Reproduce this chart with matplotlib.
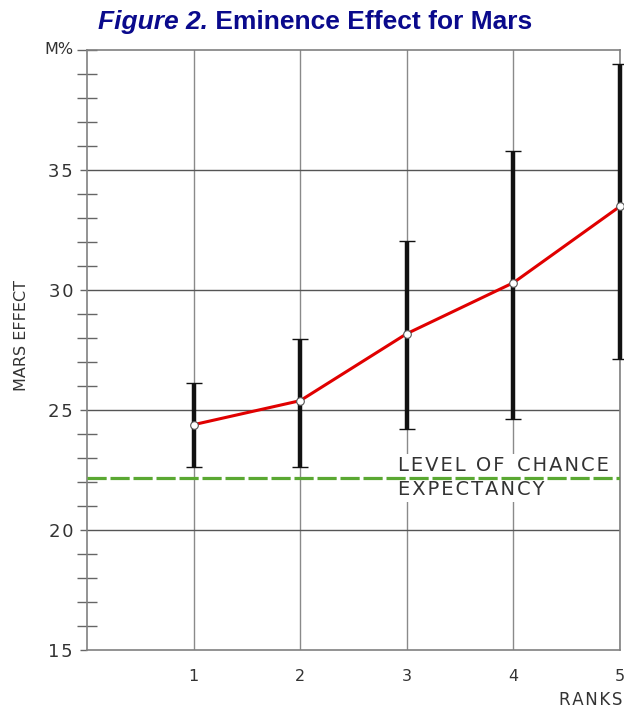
import numpy as np
import matplotlib.pyplot as plt
from matplotlib.ticker import MultipleLocator

# values
ranks = [1, 2, 3, 4, 5]
mars_effect = [24.40, 25.40, 28.19, 30.31, 33.49]
err_low = [22.65, 22.65, 24.23, 24.65, 27.13]
err_high = [26.13, 27.97, 32.06, 35.81, 39.40]
chance_level = 22.2
y_ticks = [15, 20, 25, 30, 35]

tick_font = 'DejaVu Sans'
tick_color = '#333333'
HS = '\u200a'  # hair space, for the wide letter spacing of the original


def spaced(s, sep=HS):
    return sep.join(s)


fig = plt.figure(figsize=(6.24, 7.13), dpi=100)
ax = fig.add_axes([0.1394, 0.0877, 0.8542, 0.8422])

ax.set_xlim(0, 5)
ax.set_ylim(15, 40)

# grid
for r in ranks:
    ax.axvline(r, color='#8a8a8a', lw=1.0, zorder=1)
for v in y_ticks[1:]:
    ax.axhline(v, color='#555555', lw=1.0, zorder=1)

for side in ['left', 'top', 'right', 'bottom']:
    ax.spines[side].set_color('#808080')
    ax.spines[side].set_linewidth(1.2)

ax.set_xticks(ranks)
ax.set_xticklabels([str(r) for r in ranks], fontsize=11.5, color=tick_color,
                   family=tick_font)
ax.set_yticks(y_ticks)
ax.set_yticklabels([spaced(str(v)) for v in y_ticks], fontsize=13,
                   color=tick_color, family=tick_font)
ax.yaxis.set_minor_locator(MultipleLocator(1))
ax.tick_params(axis='x', length=0, pad=13)
ax.tick_params(axis='y', which='major', direction='out', length=5,
               width=1.0, color='#666666', pad=5)
ax.tick_params(axis='y', which='minor', direction='inout', length=15,
               width=1.0, color='#666666')

# error bars
yerr = [np.array(mars_effect) - np.array(err_low),
        np.array(err_high) - np.array(mars_effect)]
eb = ax.errorbar(ranks, mars_effect, yerr=yerr, fmt='none', ecolor='#111111',
                 elinewidth=3.2, capsize=6, capthick=1.0, zorder=3)
for part in eb.lines:
    if part is None:
        continue
    items = part if isinstance(part, tuple) else (part,)
    for it in items:
        it.set_clip_on(False)

# chance expectancy
ax.axhline(chance_level, color='#5aa832', lw=2.3, dashes=(6, 1.2), zorder=4)
ax.text(2.92, 22.69, spaced('LEVEL OF') + '  ' + spaced('CHANCE'),
        fontsize=14, color=tick_color, family=tick_font, ha='left',
        va='center', zorder=2,
        bbox=dict(facecolor='white', edgecolor='none', pad=2))
ax.text(2.92, 21.69, spaced('EXPECTANCY'), fontsize=14, color=tick_color,
        family=tick_font, ha='left', va='center', zorder=2,
        bbox=dict(facecolor='white', edgecolor='none', pad=2))

# main series
ax.plot(ranks, mars_effect, color='#e00000', lw=2.2, marker='o', ms=5.5,
        mfc='white', mec='#555555', mew=0.8, zorder=5, clip_on=False)

# labels
fig.text(0.034, 0.53, 'MARS EFFECT', rotation=90, fontsize=11.5,
         color=tick_color, family=tick_font, ha='center', va='center')
fig.text(0.118, 0.93, 'M%', fontsize=11.5, color=tick_color,
         family=tick_font, ha='right', va='center')
fig.text(0.998, 0.018, spaced('RANKS'), fontsize=12, color=tick_color,
         family=tick_font, ha='right', va='center')

# title
title_color = '#0a0a8c'
t1 = fig.text(0.157, 0.969, 'Figure 2.', fontsize=19, color=title_color,
              family='Liberation Sans', weight='bold', style='italic',
              ha='left', va='center')
fig.canvas.draw()
bb = t1.get_window_extent()
x2 = fig.transFigure.inverted().transform((bb.x1, bb.y0))[0]
fig.text(x2, 0.969, ' Eminence Effect for Mars', fontsize=19,
         color=title_color, family='Liberation Sans', weight='bold',
         ha='left', va='center')

fig.savefig('out.png', dpi=100)
